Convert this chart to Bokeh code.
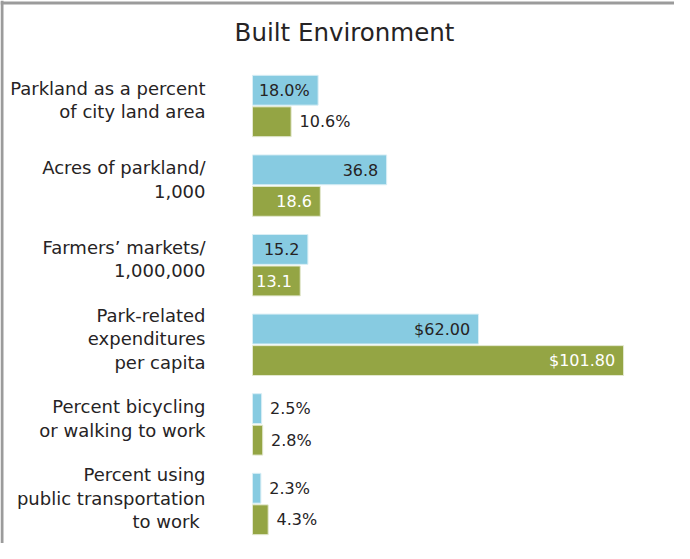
from bokeh.plotting import figure
from bokeh.models import Range1d, Span, Label, ColumnDataSource
from bokeh.core.properties import value
from bokeh.embed import file_html
from bokeh.resources import INLINE

# ---- data ----
categories = [
    "Parkland as a percent\nof city land area",
    "Acres of parkland/\n1,000",
    "Farmers\u2019 markets/\n1,000,000",
    "Park-related\nexpenditures\nper capita",
    "Percent bicycling\nor walking to work",
    "Percent using\npublic transportation\nto work ",
]
city_values = [18.0, 36.8, 15.2, 62.0, 2.5, 2.3]
comparison_values = [10.6, 18.6, 13.1, 101.8, 2.8, 4.3]
city_labels = ["18.0%", "36.8", "15.2", "$62.00", "2.5%", "2.3%"]
comparison_labels = ["10.6%", "18.6", "13.1", "$101.80", "2.8%", "4.3%"]
title_text = "Built Environment"

# ---- layout / style ----
W, H = 674, 543
FONT = "DejaVu Sans"
BLUE = "#87cbe1"
GREEN = "#94a544"
DARK = "#262324"
px_per_unit = 3.645
zero_px = 252.0
group_px = 79.6
first_center_px = 105.5

x_start = -zero_px / px_per_unit
x_end = x_start + W / px_per_unit
y_top = -first_center_px / group_px
y_bottom = y_top + H / group_px

p = figure(width=W, height=H, output_backend="svg", toolbar_location=None,
           x_range=Range1d(x_start, x_end), y_range=Range1d(y_bottom, y_top),
           min_border=0, outline_line_color=None)
p.axis.visible = False
p.grid.visible = False
p.background_fill_color = "white"
p.border_fill_color = "white"

idx = list(range(len(categories)))
off = 0.198
bar_h = 0.375
ys_city = [i - off for i in idx]
ys_comp = [i + off for i in idx]

p.hbar(y=ys_city, left=0, right=city_values, height=bar_h,
       fill_color=BLUE, line_color="#d8eef5", line_width=1)
p.hbar(y=ys_comp, left=0, right=comparison_values, height=bar_h,
       fill_color=GREEN, line_color="#e3e8cf", line_width=1)

pad = 2.3
inside_min = 12.0


def label_source(vals, labels, ys, inside_color):
    xs, aligns, colors = [], [], []
    for v in vals:
        if v >= inside_min:
            xs.append(v - pad)
            aligns.append("right")
            colors.append(inside_color)
        else:
            xs.append(v + pad)
            aligns.append("left")
            colors.append(DARK)
    return ColumnDataSource(dict(x=xs, y=ys, text=labels, align=aligns, color=colors))


for src in (label_source(city_values, city_labels, ys_city, DARK),
            label_source(comparison_values, comparison_labels, ys_comp, "white")):
    p.text(x="x", y="y", text="text", source=src, text_align="align",
           text_color="color", text_baseline="middle",
           text_font=value(FONT), text_font_size="16px")

# category labels
cat_x = (205 - zero_px) / px_per_unit
p.text(x=[cat_x] * len(categories), y=[i - 0.075 for i in idx], text=categories,
       text_align="right", text_baseline="middle", text_color=DARK,
       text_font=value(FONT), text_font_size="18px", text_line_height=1.12)

# title
p.add_layout(Label(x=(352 - 8), y=H - (40 - 8), x_units="screen", y_units="screen",
                   text=title_text, text_align="center", text_baseline="middle",
                   text_font=FONT, text_font_size="24.5px", text_color=DARK))

# frame border (top & left, cut off at right/bottom like the reference)
p.add_layout(Span(location=x_start + 1.5 / px_per_unit, dimension="height",
                  line_color="#9b9b9b", line_width=3))
p.add_layout(Span(location=y_top + 2.5 / group_px, dimension="width",
                  line_color="#9b9b9b", line_width=3))

open("out.html", "w").write(file_html(p, INLINE))
